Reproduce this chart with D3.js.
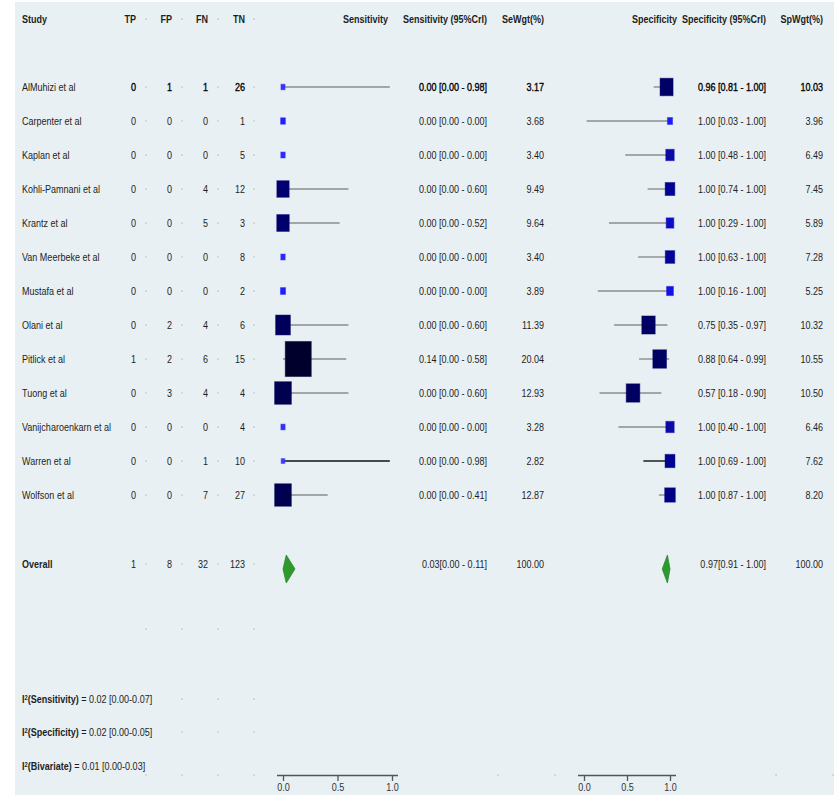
<!DOCTYPE html>
<html>
<head>
<meta charset="utf-8">
<script src="https://cdn.jsdelivr.net/npm/d3@7/dist/d3.min.js"></script>
<style>
html,body{margin:0;padding:0;background:#fff;}
svg{display:block;}
</style>
</head>
<body>
<div id="chart"></div>
<script>
// ---------------- DATA ----------------
const studies = ["AlMuhizi et al","Carpenter et al","Kaplan et al","Kohli-Pamnani et al","Krantz et al","Van Meerbeke et al","Mustafa et al","Olani et al","Pitlick et al","Tuong et al","Vanijcharoenkarn et al","Warren et al","Wolfson et al"];
const tp = [0,0,0,0,0,0,0,0,1,0,0,0,0];
const fp = [1,0,0,0,0,0,0,2,2,3,0,0,0];
const fn = [1,0,0,4,5,0,0,4,6,4,0,1,7];
const tn = [26,1,5,12,3,8,2,6,15,4,4,10,27];
const sens   = [0,0,0,0,0,0,0,0,0.14,0,0,0,0];
const sensLo = [0,0,0,0,0,0,0,0,0,0,0,0,0];
const sensHi = [0.98,0,0,0.60,0.52,0,0,0.60,0.58,0.60,0,0.98,0.41];
const seWgt  = [3.17,3.68,3.40,9.49,9.64,3.40,3.89,11.39,20.04,12.93,3.28,2.82,12.87];
const spec   = [0.96,1,1,1,1,1,1,0.75,0.88,0.57,1,1,1];
const specLo = [0.81,0.03,0.48,0.74,0.29,0.63,0.16,0.35,0.64,0.18,0.40,0.69,0.87];
const specHi = [1,1,1,1,1,1,1,0.97,0.99,0.90,1,1,1];
const spWgt  = [10.03,3.96,6.49,7.45,5.89,7.28,5.25,10.32,10.55,10.50,6.46,7.62,8.20];
const overallCounts = [1,8,32,123];
const overallSens = [0.03,0.00,0.11];
const overallSpec = [0.97,0.91,1.00];
const overallSensText = "0.03[0.00 - 0.11]";
const overallSpecText = "0.97[0.91 - 1.00]";
const overallWgt = ["100.00","100.00"];
const headers = ["Study","TP","FP","FN","TN","Sensitivity","Sensitivity (95%CrI)","SeWgt(%)","Specificity","Specificity (95%CrI)","SpWgt(%)"];
const i2Labels = ["Sensitivity","Specificity","Bivariate"];
const i2Values = ["0.02 [0.00-0.07]","0.02 [0.00-0.05]","0.01 [0.00-0.03]"];
const axisTicks = [0,0.5,1];

// ---------------- SETUP ----------------
const W=834,H=795;
const svg=d3.select("#chart").append("svg").attr("width",W).attr("height",H);
svg.append("rect").attr("width",W).attr("height",H).attr("fill","#fff");
svg.append("rect").attr("x",15).attr("y",2).attr("width",W-15).attr("height",H-2).attr("fill","#e8f0f3");

// font detection
function narrowAvailable(){
  const c=document.createElement("canvas").getContext("2d");
  c.font="40px 'Liberation Sans'"; const a=c.measureText("Sensitivity MMMM wwww").width;
  c.font="40px 'Liberation Sans Narrow', 'Liberation Sans'"; const b=c.measureText("Sensitivity MMMM wwww").width;
  return b < a*0.95;
}
const hasNarrow = narrowAvailable();
const FONT = hasNarrow ? "'Liberation Sans Narrow','Arial Narrow',sans-serif" : "'Liberation Sans',Arial,sans-serif";
const SX = hasNarrow ? 1 : 0.82;
const FS = 11;
const TXT = "#1e1e1e";

function txt(x,y,str,opt={}){
  const t=svg.append("text")
    .attr("transform",`translate(${x},${y}) scale(${SX},1)`)
    .attr("dy","0.35em")
    .attr("font-family",FONT).attr("font-size",opt.size||FS)
    .attr("font-weight",opt.bold?"bold":"normal")
    .attr("text-anchor",opt.anchor||"start")
    .attr("fill",opt.fill||TXT);
  if(opt.dark){t.attr("stroke","#000").attr("stroke-width",0.35).attr("fill","#000");}
  t.text(str);
  return t;
}

// layout
const headerY=19;
const rowY = i => 87 + 34*i;
const overallY = 564;
const blankY = 629;
const i2Y = [699,732,766];
const axisY = 775;
const colStudy=22, colTP=136, colFP=172, colFN=208, colTN=245;
const countCols=[colTP,colFP,colFN,colTN];
const dotCols=[146,182,218,254];
const sensHead=388, sensEst=487, seW=544;
const specHead=677, specEst=766, spW=823;

const xS=d3.scaleLinear().domain([0,1]).range([283,392]);
const xP=d3.scaleLinear().domain([0,1]).range([584,670]);

const colorW=d3.scaleLinear()
  .domain([3,3.7,5.3,6.5,7.6,10,13,20])
  .range(["#3a3aff","#1e1eff","#1212e4","#0a0aa6","#000090","#000066","#000050","#00002c"])
  .clamp(true);
const darkLine = new Set(["Warren et al"]);

// grid dots
const dotRows=[headerY,...studies.map((d,i)=>rowY(i)),overallY,blankY,i2Y[0],i2Y[1],axisY];
dotRows.forEach(y=>{
  dotCols.forEach(x=>{
    svg.append("rect").attr("x",x-0.6).attr("y",y-0.6).attr("width",1.3).attr("height",1.3).attr("fill","#b3b8bb");
  });
});
[498,555,776,833].forEach(x=>{
  svg.append("rect").attr("x",x-0.6).attr("y",axisY-0.6).attr("width",1.3).attr("height",1.3).attr("fill","#b3b8bb");
});

// headers
txt(colStudy,headerY,headers[0],{bold:true});
countCols.forEach((x,k)=>txt(x,headerY,headers[k+1],{bold:true,anchor:"end"}));
txt(sensHead,headerY,headers[5],{bold:true,anchor:"end"});
txt(sensEst,headerY,headers[6],{bold:true,anchor:"end"});
txt(seW,headerY,headers[7],{bold:true,anchor:"end"});
txt(specHead,headerY,headers[8],{bold:true,anchor:"end"});
txt(specEst,headerY,headers[9],{bold:true,anchor:"end"});
txt(spW,headerY,headers[10],{bold:true,anchor:"end"});

const f2=d3.format(".2f");

// study rows
studies.forEach((s,i)=>{
  const y=rowY(i);
  const dark = i===0;
  txt(colStudy,y,s,{});
  [tp[i],fp[i],fn[i],tn[i]].forEach((v,k)=>txt(countCols[k],y,String(v),{anchor:"end",dark}));
  txt(sensEst,y,`${f2(sens[i])} [${f2(sensLo[i])} - ${f2(sensHi[i])}]`,{anchor:"end",dark});
  txt(seW,y,f2(seWgt[i]),{anchor:"end",dark});
  txt(specEst,y,`${f2(spec[i])} [${f2(specLo[i])} - ${f2(specHi[i])}]`,{anchor:"end",dark});
  txt(spW,y,f2(spWgt[i]),{anchor:"end",dark});

  const lc = darkLine.has(s) ? "#111" : "#8c8c8c";
  // sensitivity CI + square
  svg.append("line").attr("x1",xS(sensLo[i])).attr("x2",xS(sensHi[i])).attr("y1",y).attr("y2",y)
    .attr("stroke",lc).attr("stroke-width",1.4);
  const ws=1.3*seWgt[i], hs=1.75*seWgt[i];
  svg.append("rect").attr("x",xS(sens[i])-ws/2).attr("y",y-hs/2).attr("width",ws).attr("height",hs)
    .attr("fill",colorW(seWgt[i])).attr("stroke",colorW(seWgt[i])).attr("stroke-opacity",0.45).attr("stroke-width",1);
  // specificity CI + square
  svg.append("line").attr("x1",xP(specLo[i])).attr("x2",xP(specHi[i])).attr("y1",y).attr("y2",y)
    .attr("stroke",lc).attr("stroke-width",1.4);
  const wp=1.3*spWgt[i], hp=1.75*spWgt[i];
  svg.append("rect").attr("x",xP(spec[i])-wp/2).attr("y",y-hp/2).attr("width",wp).attr("height",hp)
    .attr("fill",colorW(spWgt[i])).attr("stroke",colorW(spWgt[i])).attr("stroke-opacity",0.45).attr("stroke-width",1);
});

// overall row
txt(colStudy,overallY,"Overall",{bold:true});
overallCounts.forEach((v,k)=>txt(countCols[k],overallY,String(v),{anchor:"end"}));
txt(sensEst,overallY,overallSensText,{anchor:"end"});
txt(seW,overallY,overallWgt[0],{anchor:"end"});
txt(specEst,overallY,overallSpecText,{anchor:"end"});
txt(spW,overallY,overallWgt[1],{anchor:"end"});
function diamond(scale,vals){
  const [est,lo,hi]=vals, cy=overallY+5, h=14;
  const pts=[[scale(lo),cy],[scale(est),cy-h],[scale(hi),cy],[scale(est),cy+h]];
  svg.append("path").attr("d","M"+pts.map(p=>p.join(",")).join("L")+"Z")
    .attr("fill","#2e9a2e").attr("stroke","#2a8a2a").attr("stroke-width",0.8);
}
diamond(xS,overallSens);
diamond(xP,overallSpec);

// I² texts
i2Labels.forEach((lab,k)=>{
  const t=svg.append("text")
    .attr("transform",`translate(${colStudy},${i2Y[k]}) scale(${SX},1)`)
    .attr("dy","0.35em").attr("font-family",FONT).attr("font-size",FS).attr("fill",TXT);
  t.append("tspan").attr("font-weight","bold").text("I");
  t.append("tspan").attr("font-weight","bold").attr("font-size",7).attr("dy","-0.45em").text("2");
  t.append("tspan").attr("font-weight","bold").attr("dy","0.3em").text(`(${lab})`);
  t.append("tspan").text(` = ${i2Values[k]}`);
});

// axes
function drawAxis(scale){
  const g=svg.append("g").attr("transform",`translate(0,${axisY})`)
    .call(d3.axisBottom(scale).tickValues(axisTicks).tickFormat(d3.format(".1f")).tickSize(6).tickSizeOuter(0));
  const [r0,r1]=scale.range();
  g.select(".domain").attr("d",`M${r0-6},0.5H${r1+6}`).attr("stroke","#555").attr("stroke-width",1.3);
  g.selectAll(".tick line").attr("stroke","#555").attr("stroke-width",1.3);
  g.selectAll(".tick text").attr("font-family",FONT).attr("font-size",FS).attr("fill","#333")
    .attr("transform",`scale(${SX},1)`).attr("y",8);
}
drawAxis(xS);
drawAxis(xP);
</script>
</body>
</html>
